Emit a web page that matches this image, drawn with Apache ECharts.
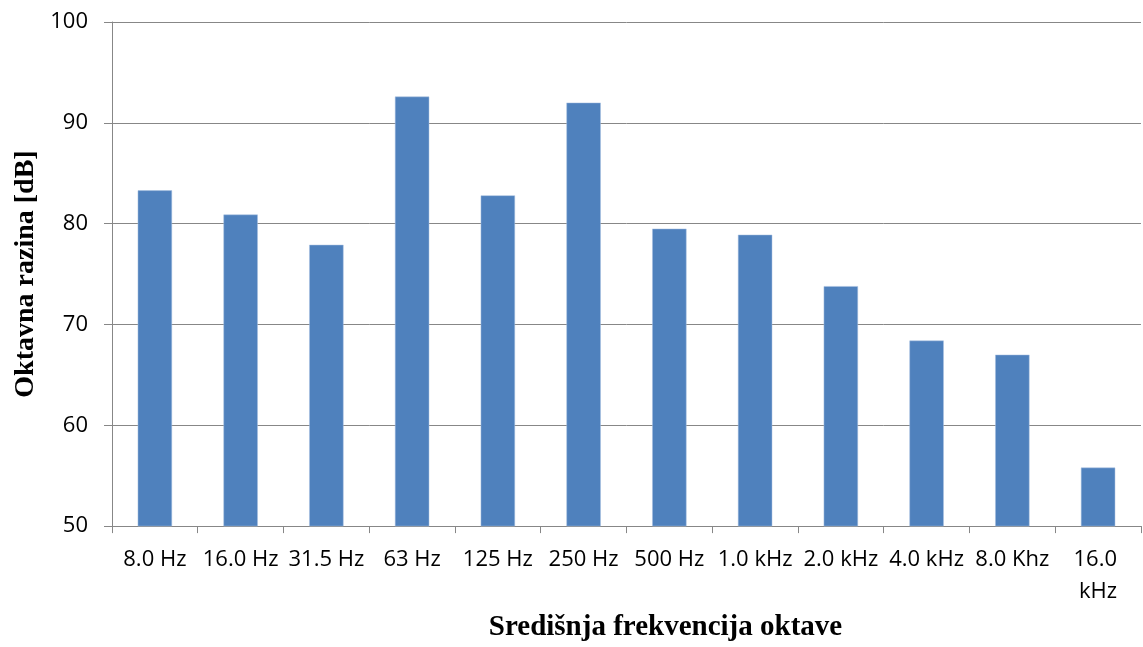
<!DOCTYPE html>
<html>
<head>
<meta charset="utf-8">
<title>Oktavna razina</title>
<script src="https://cdn.jsdelivr.net/npm/echarts@6/dist/echarts.min.js"></script>
<style>
  html, body { margin: 0; padding: 0; background: #fff; }
  #chart { width: 1143px; height: 647px; }
</style>
</head>
<body>
<div id="chart"></div>
<script>
// frekvencijski pojasevi (oktave)
const categories = ["8.0 Hz", "16.0 Hz", "31.5 Hz", "63 Hz", "125 Hz", "250 Hz",
  "500 Hz", "1.0 kHz", "2.0 kHz", "4.0 kHz", "8.0 Khz", "16.0 kHz"];
// oktavna razina [dB]
const levels = [83.3, 80.9, 77.9, 92.6, 82.8, 92.0, 79.5, 78.9, 73.8, 68.4, 67.0, 55.8];
// y os
const yMin = 50;
const yMax = 100;
const yStep = 10;

const gridColor = "#878787";
const labelFont = "'Open Sans', sans-serif";
const titleFont = "'Liberation Serif', 'DejaVu Serif', serif";

const chart = echarts.init(document.getElementById("chart"));
chart.setOption({
  animation: false,
  grid: { left: 112, right: 0, top: 22, bottom: 118, containLabel: false },
  xAxis: {
    type: "category",
    data: categories,
    name: "Središnja frekvencija oktave",
    nameLocation: "middle",
    nameGap: 78,
    nameTextStyle: {
      fontFamily: titleFont,
      fontWeight: "bold",
      fontSize: 29,
      color: "#000",
      padding: [0, 0, 0, 78],
    },
    axisLine: { show: true, lineStyle: { color: gridColor, width: 1 } },
    axisTick: { show: true, length: 7, lineStyle: { color: gridColor } },
    axisLabel: {
      interval: 0,
      margin: 18,
      fontFamily: labelFont,
      fontSize: 22,
      lineHeight: 32,
      color: "#000",
      width: 84,
      overflow: "break",
    },
  },
  yAxis: {
    type: "value",
    min: yMin,
    max: yMax,
    interval: yStep,
    name: "Oktavna razina [dB]",
    nameLocation: "middle",
    nameRotate: 90,
    nameGap: 72,
    nameTextStyle: {
      fontFamily: titleFont,
      fontWeight: "bold",
      fontSize: 28,
      color: "#000",
    },
    axisLine: { show: true, lineStyle: { color: gridColor, width: 1 } },
    axisTick: { show: true, length: 8, lineStyle: { color: gridColor } },
    axisLabel: {
      margin: 24,
      fontFamily: labelFont,
      fontSize: 22,
      color: "#000",
    },
    splitLine: { show: true, lineStyle: { color: gridColor, width: 1 } },
  },
  series: [
    {
      type: "bar",
      data: levels,
      barWidth: "40%",
      itemStyle: { color: "#4f81bd", borderColor: "#a9c1e0", borderWidth: 0.5 },
    },
  ],
});
</script>
</body>
</html>
